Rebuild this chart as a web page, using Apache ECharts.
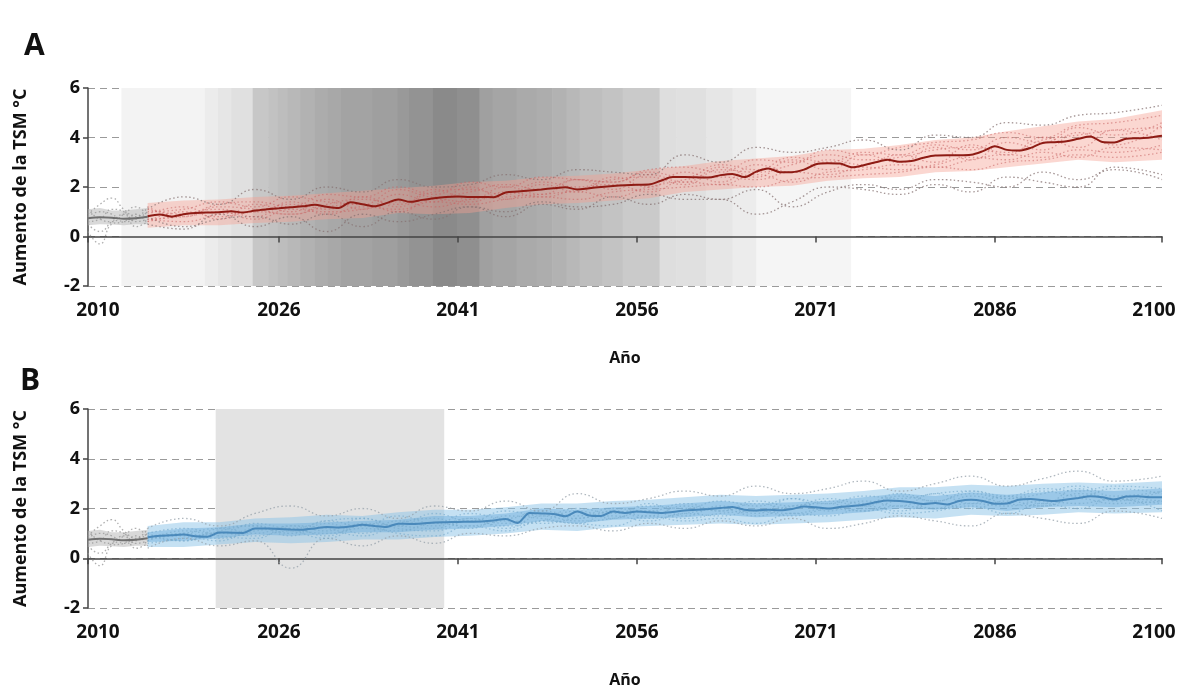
<!DOCTYPE html>
<html>
<head>
<meta charset="utf-8">
<script src="https://cdn.jsdelivr.net/npm/echarts@6/dist/echarts.min.js"></script>
<style>
  html, body { margin: 0; padding: 0; background: #fff; }
  #chart { width: 1182px; height: 695px; }
</style>
</head>
<body>
<div id="chart"></div>
<script>
// ---- axes ----
const xTickYears = [2010, 2026, 2041, 2056, 2071, 2086, 2100];
const yTicks = [-2, 0, 2, 4, 6];

// ---- historical period (shared by both panels) ----
const histYears = [2010, 2011, 2012, 2013, 2014, 2015];
const histMean = [0.74, 0.78, 0.76, 0.72, 0.74, 0.80];
const histLower = [0.45, 0.50, 0.48, 0.45, 0.50, 0.50];
const histUpper = [1.10, 1.15, 1.05, 1.05, 1.10, 1.15];
const histRuns = [
  [0.90, 1.30, 1.55, 1.10, 0.80, 1.20],
  [0.50, 0.20, 0.60, 0.90, 0.40, 0.60],
  [1.10, 0.70, 0.60, 0.90, 1.20, 0.80],
  [0.20, -0.30, 0.50, 0.60, 0.90, 0.50],
  [0.80, 1.00, 0.90, 0.60, 0.70, 1.00],
  [0.60, 0.70, 1.10, 1.00, 0.60, 0.70]
];

// ---- projection years ----
const projYears = Array.from({ length: 86 }, (_, i) => 2015 + i);
const runYears = [2015, 2018, 2021, 2024, 2027, 2030, 2033, 2036, 2039, 2042, 2045, 2048, 2051, 2054, 2057,
  2060, 2063, 2066, 2069, 2072, 2075, 2078, 2081, 2084, 2087, 2090, 2093, 2096, 2100];

// ---- panel A: ensemble mean, spread and individual runs ----
const meanA = [
  0.82, 0.89, 0.80, 0.90, 0.95, 0.97, 0.98, 1.02, 0.97, 1.05,
  1.10, 1.14, 1.18, 1.22, 1.28, 1.20, 1.15, 1.38, 1.30, 1.22,
  1.35, 1.50, 1.40, 1.48, 1.55, 1.60, 1.62, 1.60, 1.60, 1.59,
  1.78, 1.82, 1.86, 1.90, 1.95, 1.99, 1.90, 1.95, 2.00, 2.04,
  2.07, 2.09, 2.10, 2.25, 2.40, 2.40, 2.39, 2.38, 2.48, 2.53,
  2.40, 2.62, 2.75, 2.60, 2.60, 2.70, 2.92, 2.96, 2.95, 2.80,
  2.88, 3.00, 3.10, 3.02, 3.05, 3.18, 3.27, 3.28, 3.28, 3.30,
  3.45, 3.65, 3.50, 3.47, 3.58, 3.78, 3.81, 3.85, 3.95, 4.04,
  3.82, 3.80, 3.95, 3.97, 4.00, 4.07
];
const upperA = [1.35, 1.45, 1.50, 1.60, 1.65, 1.75, 1.85, 1.95, 2.05, 2.20, 2.25, 2.40, 2.45, 2.55, 2.70,
  2.85, 3.05, 3.15, 3.25, 3.50, 3.55, 3.70, 3.90, 4.00, 4.25, 4.45, 4.65, 4.75, 5.10];
const lowerA = [0.35, 0.45, 0.45, 0.55, 0.60, 0.70, 0.75, 0.95, 0.90, 0.95, 1.15, 1.30, 1.35, 1.45, 1.55,
  1.80, 1.90, 2.00, 2.05, 2.25, 2.35, 2.40, 2.60, 2.65, 2.80, 2.95, 3.10, 3.00, 3.10];
const outlierRunsA = [
  [1.1, 1.6, 1.3, 1.9, 1.5, 2.0, 1.8, 2.3, 2.0, 2.1, 2.5, 2.3, 2.7, 2.6, 2.5, 3.3, 3.0, 3.6, 3.4, 3.6, 3.9, 3.5, 4.1, 4.0, 4.6, 4.5, 4.9, 5.0, 5.3],
  [0.5, 0.3, 0.9, 0.4, 0.8, 0.2, 0.9, 0.6, 0.9, 1.2, 0.8, 1.3, 1.1, 1.6, 1.3, 1.7, 1.5, 1.9, 1.2, 1.8, 2.1, 1.9, 2.3, 2.2, 2.0, 2.6, 2.3, 2.7, 2.3],
  [0.8, 0.4, 0.7, 0.8, 0.5, 0.9, 0.4, 1.0, 0.7, 1.2, 1.0, 1.4, 1.2, 1.3, 1.7, 1.5, 1.5, 0.9, 1.4, 2.0, 1.9, 1.7, 2.1, 1.8, 2.4, 2.2, 2.0, 2.8, 2.5]
];
const runsA = [
  [0.9, 1.2, 0.7, 1.3, 1.0, 1.5, 1.1, 1.7, 1.4, 2.0, 1.5, 2.1, 1.8, 2.4, 2.0, 2.6, 2.2, 2.9, 2.6, 3.1, 2.9, 3.3, 3.0, 3.7, 3.3, 4.0, 3.6, 4.3, 3.9],
  [0.6, 0.9, 1.1, 0.8, 1.4, 1.1, 1.6, 1.2, 1.9, 1.5, 2.0, 1.7, 2.3, 1.9, 2.5, 2.2, 2.8, 2.4, 3.1, 2.7, 3.3, 3.0, 3.6, 3.1, 3.8, 3.5, 4.2, 3.7, 4.5],
  [1.2, 0.8, 1.2, 1.1, 0.9, 1.3, 1.5, 1.3, 1.8, 1.9, 1.7, 2.2, 2.0, 2.3, 2.4, 2.1, 2.7, 2.6, 2.9, 3.3, 3.1, 3.2, 3.5, 3.6, 3.4, 3.9, 4.1, 4.3, 4.4],
  [0.7, 0.6, 0.9, 1.0, 1.3, 0.9, 1.2, 1.1, 1.4, 1.3, 1.5, 1.6, 1.5, 1.8, 1.9, 2.0, 2.1, 2.0, 2.3, 2.4, 2.5, 2.6, 2.8, 2.7, 3.0, 3.1, 3.3, 3.2, 3.4],
  [1.0, 1.1, 1.4, 1.2, 1.6, 1.4, 1.3, 1.9, 1.6, 1.8, 2.1, 1.9, 2.3, 2.2, 2.6, 2.4, 2.9, 2.7, 3.2, 3.0, 3.4, 3.3, 3.7, 3.5, 4.0, 3.8, 4.4, 4.1, 4.6],
  [0.6, 1.0, 0.8, 1.0, 0.9, 1.2, 1.3, 1.0, 1.5, 1.4, 1.8, 1.6, 1.9, 2.1, 1.8, 2.3, 2.4, 2.3, 2.6, 2.5, 2.8, 2.7, 2.9, 3.2, 3.1, 3.4, 3.2, 3.6, 3.5],
  [1.1, 0.9, 1.3, 1.4, 1.2, 1.7, 1.6, 2.0, 1.7, 2.2, 2.0, 2.4, 2.3, 2.2, 2.7, 2.8, 2.6, 3.1, 3.0, 3.5, 3.3, 3.6, 3.8, 3.9, 4.2, 4.0, 4.5, 4.6, 4.9],
  [0.7, 0.8, 1.0, 0.7, 1.1, 1.0, 1.1, 1.4, 1.2, 1.5, 1.6, 1.7, 1.8, 1.6, 2.0, 2.2, 2.1, 2.5, 2.2, 2.6, 2.7, 2.9, 2.8, 3.1, 3.3, 3.2, 3.5, 3.4, 3.7]
];

// ---- panel A: emergence-time shading (year boundaries and grey level of each strip) ----
const shadeBoundsA = [2012.8, 2019.8, 2020.9, 2022.0, 2023.8, 2025.1, 2025.9, 2026.7, 2027.8, 2029.0, 2030.1,
  2031.2, 2033.8, 2035.9, 2036.9, 2038.9, 2040.9, 2042.8, 2043.9, 2045.9, 2047.6, 2048.9, 2050.1, 2051.2,
  2053.1, 2054.8, 2057.9, 2059.3, 2061.8, 2064.0, 2066.0, 2073.9];
const shadeGreyA = [243, 236, 230, 224, 199, 194, 189, 184, 178, 172, 168, 163, 159, 153, 147, 138, 143,
  160, 165, 170, 173, 178, 184, 190, 195, 202, 222, 224, 230, 236, 245];

// ---- panel B ----
const meanB = [
  0.84, 0.90, 0.92, 0.95, 0.88, 0.86, 1.04, 1.03, 1.02, 1.20,
  1.20, 1.18, 1.16, 1.15, 1.20, 1.26, 1.24, 1.28, 1.35, 1.30,
  1.26, 1.39, 1.38, 1.40, 1.44, 1.45, 1.46, 1.47, 1.48, 1.52,
  1.58, 1.42, 1.82, 1.80, 1.78, 1.69, 1.88, 1.72, 1.70, 1.88,
  1.82, 1.88, 1.85, 1.82, 1.86, 1.92, 1.95, 1.98, 2.02, 2.06,
  1.95, 1.92, 1.95, 1.93, 1.98, 2.08, 2.05, 2.00, 2.06, 2.10,
  2.15, 2.25, 2.32, 2.30, 2.25, 2.18, 2.22, 2.16, 2.30, 2.35,
  2.30, 2.19, 2.20, 2.35, 2.38, 2.34, 2.30, 2.36, 2.42, 2.49,
  2.45, 2.36, 2.48, 2.49, 2.45, 2.45
];
const upperB = [1.30, 1.45, 1.45, 1.60, 1.65, 1.75, 1.70, 1.85, 1.95, 1.95, 2.05, 2.20, 2.20, 2.30, 2.35,
  2.45, 2.55, 2.50, 2.55, 2.60, 2.70, 2.85, 2.85, 2.95, 2.90, 3.00, 3.05, 3.00, 3.10];
const lowerB = [0.45, 0.45, 0.55, 0.65, 0.60, 0.65, 0.75, 0.75, 0.85, 0.90, 1.00, 1.15, 1.10, 1.25, 1.30,
  1.35, 1.40, 1.35, 1.40, 1.45, 1.55, 1.65, 1.60, 1.75, 1.70, 1.75, 1.85, 1.80, 1.85];
const innerUpperB = [1.05, 1.20, 1.25, 1.40, 1.40, 1.45, 1.50, 1.55, 1.70, 1.70, 1.80, 2.00, 1.95, 2.05, 2.10,
  2.20, 2.30, 2.20, 2.25, 2.30, 2.45, 2.60, 2.50, 2.65, 2.55, 2.65, 2.75, 2.70, 2.80];
const innerLowerB = [0.65, 0.70, 0.80, 0.95, 0.90, 0.95, 1.05, 1.05, 1.15, 1.20, 1.30, 1.50, 1.40, 1.55, 1.60,
  1.65, 1.75, 1.65, 1.70, 1.75, 1.85, 2.00, 1.95, 2.05, 1.90, 2.05, 2.10, 2.05, 2.15];
const outlierRunsB = [
  [1.2, 1.6, 1.3, 1.8, 2.1, 1.7, 2.0, 1.6, 2.1, 1.9, 2.3, 1.9, 2.6, 2.2, 2.4, 2.7, 2.5, 2.9, 2.6, 2.8, 3.1, 2.7, 3.0, 3.3, 2.9, 3.2, 3.5, 3.1, 3.3],
  [0.4, 0.8, 0.5, 0.7, -0.4, 0.8, 0.5, 0.9, 0.6, 1.0, 0.9, 1.2, 1.3, 1.1, 1.4, 1.2, 1.5, 1.3, 1.6, 1.2, 1.4, 1.7, 1.5, 1.3, 1.8, 1.6, 1.4, 1.9, 1.6]
];
const runsB = [
  [1.0, 0.7, 1.1, 1.3, 0.9, 1.4, 1.0, 1.5, 1.3, 1.6, 1.4, 1.8, 1.6, 1.9, 1.7, 2.1, 1.9, 2.2, 2.0, 2.3, 2.1, 2.5, 2.3, 2.6, 2.4, 2.7, 2.5, 2.8, 2.6],
  [0.7, 1.1, 0.9, 0.8, 1.3, 1.1, 1.6, 1.2, 1.1, 1.5, 1.3, 1.5, 1.9, 1.6, 2.2, 1.7, 2.1, 1.8, 2.4, 1.9, 2.3, 2.1, 2.6, 2.2, 2.5, 2.2, 2.8, 2.3, 2.7],
  [0.9, 1.0, 1.2, 1.0, 1.3, 1.2, 0.9, 1.4, 1.6, 1.2, 1.7, 1.6, 1.4, 1.9, 1.6, 1.8, 2.0, 1.7, 2.1, 2.2, 1.9, 2.3, 2.0, 2.5, 2.2, 2.1, 2.6, 2.4, 2.2],
  [0.8, 0.9, 0.7, 1.2, 1.1, 0.8, 1.3, 1.0, 0.9, 1.3, 1.1, 1.5, 1.4, 1.3, 1.7, 1.5, 1.6, 1.4, 1.8, 1.7, 2.0, 1.8, 1.9, 2.1, 1.8, 2.2, 2.0, 2.4, 1.9],
  [1.0, 1.2, 1.0, 1.4, 1.2, 1.5, 1.6, 1.3, 1.8, 1.5, 1.9, 1.7, 2.0, 1.8, 2.1, 2.0, 2.3, 2.1, 2.4, 2.2, 2.5, 2.4, 2.6, 2.7, 2.5, 2.8, 2.7, 2.9, 2.8],
  [0.6, 0.8, 1.0, 0.9, 1.1, 1.0, 1.2, 1.1, 1.4, 1.3, 1.5, 1.4, 1.6, 1.7, 1.5, 1.8, 1.7, 1.9, 1.8, 2.0, 1.9, 2.1, 2.0, 2.2, 2.1, 2.3, 2.2, 2.4, 2.3],
  [0.9, 0.7, 1.2, 1.3, 1.0, 1.5, 1.3, 1.7, 1.4, 1.8, 1.6, 1.9, 1.7, 2.0, 1.9, 2.2, 1.9, 2.3, 2.1, 2.4, 2.2, 2.6, 2.3, 2.7, 2.4, 2.6, 2.9, 2.5, 2.7],
  [0.7, 1.0, 0.8, 1.1, 1.2, 0.9, 1.4, 1.3, 1.2, 1.6, 1.2, 1.7, 1.5, 1.6, 1.9, 1.6, 1.8, 1.9, 1.7, 2.0, 2.1, 1.9, 2.2, 2.0, 2.3, 2.1, 2.4, 2.2, 2.3]
];
// emergence window of panel B [start, end]
const shadeWindowB = [2020.7, 2039.8];

// ---------------------------------------------------------------
const FONT = 'Open Sans';
const yMin = yTicks[0], yMax = yTicks[yTicks.length - 1];
const pairs = (xs, ys) => xs.map((x, i) => [x, ys[i]]);

// vertical grey strips spanning the full value range
function shadeSeries(idx, strips) {
  return {
    type: 'custom', xAxisIndex: idx, yAxisIndex: idx, z: 0, silent: true,
    encode: { x: [0, 1] },
    data: strips,
    renderItem: (params, api) => {
      const p0 = api.coord([api.value(0), yMax]);
      const p1 = api.coord([api.value(1), yMin]);
      const g = api.value(2);
      return {
        type: 'rect',
        shape: { x: p0[0], y: p0[1], width: p1[0] - p0[0] + 0.6, height: p1[1] - p0[1] },
        style: { fill: `rgb(${g},${g},${g})` }
      };
    }
  };
}

// filled envelope between a lower and an upper curve
function band(idx, xs, lo, hi, color, z) {
  const rows = xs.map((x, i) => [x, lo[i], hi[i]]);
  return {
    type: 'custom', xAxisIndex: idx, yAxisIndex: idx, z, silent: true,
    encode: { x: 0, y: [1, 2] },
    data: [rows[0]],
    renderItem: (params, api) => {
      const top = rows.map(r => api.coord([r[0], r[2]]));
      const bottom = rows.slice().reverse().map(r => api.coord([r[0], r[1]]));
      return {
        type: 'polygon',
        shape: { points: top.concat(bottom) },
        style: { fill: color }
      };
    }
  };
}

function dotted(idx, xs, ys, color, z) {
  return { type: 'line', xAxisIndex: idx, yAxisIndex: idx, smooth: 0.5, symbol: 'none', z, silent: true,
    lineStyle: { type: [1.5, 2.5], width: 1.3, color }, data: pairs(xs, ys) };
}

function meanLine(idx, xs, ys, color, z) {
  return { type: 'line', xAxisIndex: idx, yAxisIndex: idx, smooth: 0.3, symbol: 'none', z, silent: true,
    lineStyle: { width: 2, color }, data: pairs(xs, ys) };
}

const shadeStripsA = shadeGreyA.map((g, i) => [shadeBoundsA[i], shadeBoundsA[i + 1], g]);
const shadeStripsB = [[shadeWindowB[0], shadeWindowB[1], 227]];

const tickLabelRich = {
  first: { padding: [0, 0, 0, 20], fontFamily: FONT, fontWeight: 'bold', fontSize: 19, color: '#111' },
  last: { padding: [0, 16, 0, 0], fontFamily: FONT, fontWeight: 'bold', fontSize: 19, color: '#111' }
};

function xAxis(idx) {
  return {
    type: 'value', gridIndex: idx, min: 2010, max: 2100,
    name: 'Año', nameLocation: 'middle', nameGap: 64,
    nameTextStyle: { fontFamily: FONT, fontWeight: 'bold', fontSize: 16, color: '#111' },
    axisLine: { lineStyle: { color: '#444', width: 1.5 } },
    axisTick: { customValues: xTickYears, length: 6, lineStyle: { color: '#444', width: 1.5 } },
    axisLabel: {
      customValues: xTickYears, margin: 15, fontFamily: FONT, fontWeight: 'bold', fontSize: 19, color: '#111',
      rich: tickLabelRich,
      formatter: v => v === xTickYears[0] ? `{first|${v}}` : (v === xTickYears[xTickYears.length - 1] ? `{last|${v}}` : String(v))
    },
    splitLine: { show: false }
  };
}

function yAxis(idx) {
  return {
    type: 'value', gridIndex: idx, min: yMin, max: yMax, interval: 2,
    name: 'Aumento de la TSM °C', nameLocation: 'middle', nameRotate: 90, nameGap: 58,
    nameTextStyle: { fontFamily: FONT, fontWeight: 'bold', fontSize: 18, color: '#111' },
    axisLine: { show: true, lineStyle: { color: '#444', width: 1.5 } },
    axisTick: { show: true, length: 5, lineStyle: { color: '#444', width: 1.5 } },
    axisLabel: { margin: 8, fontFamily: FONT, fontWeight: 'bold', fontSize: 18, color: '#111' },
    splitLine: { show: true, lineStyle: { type: [7, 5], color: '#9a9a9a', width: 1.2 } }
  };
}

const series = [
  // panel A
  shadeSeries(0, shadeStripsA),
  band(0, histYears, histLower, histUpper, 'rgba(185,185,185,0.55)', 2),
  ...histRuns.map(r => dotted(0, histYears, r, 'rgba(150,150,150,0.75)', 3)),
  band(0, runYears, lowerA, upperA, 'rgba(246,160,145,0.42)', 2),
  ...outlierRunsA.map(r => dotted(0, runYears, r, 'rgba(135,115,115,0.75)', 3)),
  ...runsA.map(r => dotted(0, runYears, r, 'rgba(200,100,100,0.55)', 3)),
  meanLine(0, histYears, histMean, '#6f6f6f', 6),
  meanLine(0, projYears, meanA, '#8e1b14', 6),
  // panel B
  shadeSeries(1, shadeStripsB),
  band(1, histYears, histLower, histUpper, 'rgba(185,185,185,0.55)', 2),
  ...histRuns.map(r => dotted(1, histYears, r, 'rgba(150,150,150,0.75)', 3)),
  band(1, runYears, lowerB, upperB, 'rgba(140,195,232,0.5)', 2),
  band(1, runYears, innerLowerB, innerUpperB, 'rgba(105,170,220,0.45)', 2),
  ...outlierRunsB.map(r => dotted(1, runYears, r, 'rgba(150,160,170,0.75)', 3)),
  ...runsB.map(r => dotted(1, runYears, r, 'rgba(120,170,205,0.65)', 3)),
  meanLine(1, histYears, histMean, '#6f6f6f', 6),
  meanLine(1, projYears, meanB, '#4a89bb', 6)
];

const chart = echarts.init(document.getElementById('chart'), null, { renderer: 'canvas' });
chart.setOption({
  animation: false,
  backgroundColor: '#fff',
  grid: [
    { left: 88, right: 20, top: 88, height: 198 },
    { left: 88, right: 20, top: 409, height: 199 }
  ],
  xAxis: [xAxis(0), xAxis(1)],
  yAxis: [yAxis(0), yAxis(1)],
  graphic: [
    { type: 'text', left: 24, top: 31, style: { text: 'A', fontFamily: FONT, fontWeight: 'bold', fontSize: 30, fill: '#111' } },
    { type: 'text', left: 20, top: 366, style: { text: 'B', fontFamily: FONT, fontWeight: 'bold', fontSize: 30, fill: '#111' } }
  ],
  series
});
</script>
</body>
</html>
